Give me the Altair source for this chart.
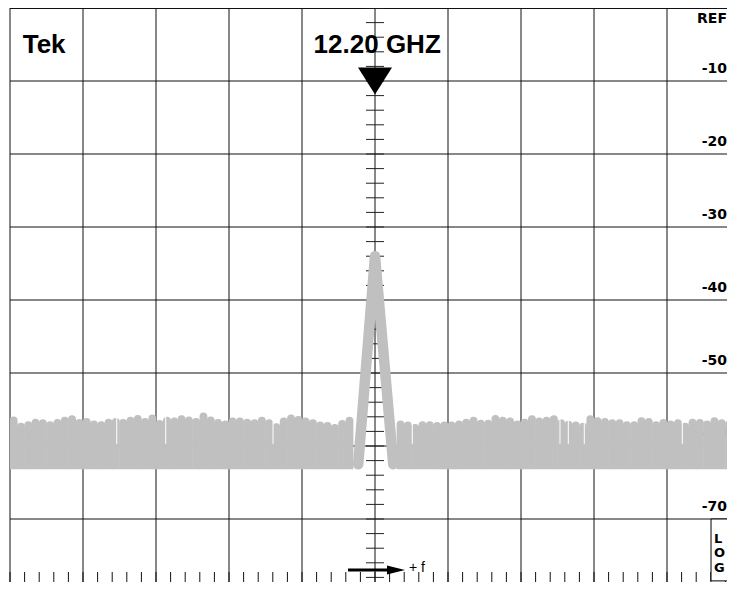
import altair as alt
import pandas as pd

# ---------------- data ----------------
# graticule (divisions on x, dB on y)
div_lines = [-5, -4, -3, -2, -1, 0, 1, 2, 3, 4]
db_lines = [-10, -20, -30, -40, -50, -60, -70, -80]
top_line_db = [0]
center_minor_db = list(range(0, -81, -2))
bottom_minor_div = [round(-5 + 0.2 * k, 1) for k in range(50)]

# right-hand level labels
level_labels = ["-10", "-20", "-30", "-40", "-50", "-60", "-70"]
level_db = [-10, -20, -30, -40, -50, -60, -70]
ref_label = "REF"
ref_db = -2.05

# noise floor tops (dB), bins of 0.1 division
noise_left_db = [-55.95, -56.8, -56.6, -56.25, -56.35, -56.6, -56.3, -56.0, -55.8, -56.3,
                 -56.15, -56.5, -56.6, -56.25, -56.15, -56.3, -56.0, -55.75, -56.15, -55.7,
                 -56.45, -56.0, -56.1, -55.8, -55.95, -56.15, -55.4, -55.95, -56.3, -56.5,
                 -56.1, -56.1, -56.25, -56.35, -56.0, -56.35, -56.9, -56.1, -55.7, -55.9,
                 -56.1, -56.35, -56.65, -56.7, -57.0, -56.45, -56.0]
noise_right_db = [-56.5, -56.65, -57.0, -56.6, -56.6, -56.7, -56.65, -56.65, -56.5, -56.25,
                  -56.0, -56.4, -56.4, -55.75, -56.0, -56.1, -56.5, -56.25, -55.8, -56.1,
                  -56.0, -55.8, -56.35, -56.55, -56.65, -56.8, -55.8, -56.05, -56.15, -56.35,
                  -56.35, -56.6, -56.6, -56.05, -56.15, -56.6, -56.3, -56.5, -56.35, -56.8,
                  -56.25, -56.3, -56.5, -56.05, -56.35, -56.5, -56.35]
noise_left_start = -4.95
noise_right_start = 0.35
noise_bin = 0.1
noise_floor_db = -63.2
noise_gap_div = [-3.538, -2.867, -1.397, 0.511, 2.534, 2.648, 2.867, 4.21]

# carrier peak
peak_div = [-0.23, 0.0, 0.25]
peak_db = [-62.5, -34.0, -62.5]

title_text = "Tek"
center_freq_text = "12.20 GHZ"
freq_dir_text = "+ f"
log_text = "L\nO\nG"

# ---------------- scales ----------------
PX_PER_DIV = 73.0
PLOT_W, PLOT_H = 717, 574
X_MIN = -5.0
X_MAX = X_MIN + PLOT_W / PX_PER_DIV
Y_MAX = 0.0
Y_MIN = -PLOT_H / (PX_PER_DIV / 10.0)
xs = alt.Scale(domain=[X_MIN, X_MAX], nice=False, zero=False)
ys = alt.Scale(domain=[Y_MIN, Y_MAX], nice=False, zero=False)
FONT = "Liberation Sans"
LFONT = "DejaVu Sans"
TRACE = "#c0c0c0"


def X(field=None, **kw):
    if field is None:
        return alt.X(scale=xs, axis=None, **kw)
    return alt.X(field, scale=xs, axis=None, **kw)


def Y(field=None, **kw):
    if field is None:
        return alt.Y(scale=ys, axis=None, **kw)
    return alt.Y(field, scale=ys, axis=None, **kw)


# tables
vgrid_df = pd.DataFrame({"d": div_lines})
hgrid_df = pd.DataFrame({"v": db_lines})
top_df = pd.DataFrame({"v": top_line_db})
cminor_df = pd.DataFrame({"v": center_minor_db, "c": [0] * len(center_minor_db)})
bminor_df = pd.DataFrame({"d": bottom_minor_div})
lvl_df = pd.DataFrame({"t": level_labels, "v": level_db})
ref_df = pd.DataFrame({"t": [ref_label], "v": [ref_db]})

centers = [noise_left_start + noise_bin * i for i in range(len(noise_left_db))] + \
          [noise_right_start + noise_bin * i for i in range(len(noise_right_db))]
tops = noise_left_db + noise_right_db
noise_df = pd.DataFrame({
    "lo": [c - noise_bin / 2 - 0.004 for c in centers],
    "hi": [c + noise_bin / 2 + 0.004 for c in centers],
    "top": tops,
    "floor": [noise_floor_db] * len(tops),
})
gap_df = pd.DataFrame({"d": noise_gap_div})
peak_df = pd.DataFrame({"f": peak_div, "db": peak_db, "o": list(range(len(peak_div)))})

one = pd.DataFrame({"k": [0]})

# ---------------- layers ----------------
vgrid = alt.Chart(vgrid_df).mark_rule(color="#111", strokeWidth=1).encode(x=X("d:Q"))
hgrid = alt.Chart(hgrid_df).mark_rule(color="#111", strokeWidth=1).encode(y=Y("v:Q"))
topline = alt.Chart(top_df).mark_rule(color="#111", strokeWidth=2).encode(y=Y("v:Q"))
cminor = alt.Chart(cminor_df).mark_tick(orient="horizontal", size=18, thickness=1, color="#222",
                                        opacity=1).encode(x=X("c:Q"), y=Y("v:Q"))
bminor = alt.Chart(bminor_df).mark_tick(orient="vertical", size=20, thickness=1, color="#111",
                                        opacity=1).encode(x=X("d:Q"), y=Y(datum=Y_MIN))
lvl = alt.Chart(lvl_df).mark_text(align="right", baseline="alphabetic", dy=-8, font=LFONT,
                                  fontSize=14, fontWeight="bold", color="black").encode(
    x=X(datum=X_MAX), y=Y("v:Q"), text="t:N")
ref = alt.Chart(ref_df).mark_text(align="right", baseline="alphabetic", font=LFONT,
                                  fontSize=14, fontWeight="bold", color="black").encode(
    x=X(datum=X_MAX), y=Y("v:Q"), text="t:N")

noise = alt.Chart(noise_df).mark_rect(color=TRACE, cornerRadiusTopLeft=3.6,
                                      cornerRadiusTopRight=3.6, clip=True).encode(
    x=X("lo:Q"), x2="hi:Q", y=Y("top:Q"), y2="floor:Q")
gaps = alt.Chart(gap_df).mark_rule(color="white", strokeWidth=1).encode(
    x=X("d:Q"), y=Y(datum=-55.0), y2=alt.Y2(datum=-59.7))
peak = alt.Chart(peak_df).mark_line(color=TRACE, strokeWidth=10.5, strokeCap="round",
                                    strokeJoin="round").encode(
    x=X("f:Q"), y=Y("db:Q"), order="o:Q")

marker = alt.Chart(one).mark_point(shape="M-1,-0.8L1,-0.8L0,0.8Z", size=1156, filled=True,
                                   color="black", opacity=1, strokeWidth=0).encode(
    x=X(datum=0.0), y=Y(datum=-10.0))

tek = alt.Chart(one).mark_text(text=title_text, align="left", baseline="alphabetic", font=FONT,
                               fontSize=26, fontWeight="bold", color="black").encode(
    x=X(datum=-4.826), y=Y(datum=-6.16))
cfreq = alt.Chart(one).mark_text(text=center_freq_text, align="center", baseline="alphabetic",
                                 font=FONT, fontSize=26, fontWeight="bold", color="black").encode(
    x=X(datum=0.03), y=Y(datum=-6.16))

ARROW_DB = -77.0
arrow_shaft = alt.Chart(one).mark_rule(color="black", strokeWidth=3).encode(
    x=X(datum=-0.37), x2=alt.X2(datum=0.27), y=Y(datum=ARROW_DB))
arrow_head = alt.Chart(one).mark_point(shape="M-1,-0.5L1,0L-1,0.5Z", size=324, filled=True,
                                       color="black", opacity=1, strokeWidth=0).encode(
    x=X(datum=0.288), y=Y(datum=ARROW_DB))
fdir = alt.Chart(one).mark_text(text=freq_dir_text, align="left", baseline="alphabetic",
                                font=FONT, fontSize=14, color="black").encode(
    x=X(datum=0.466), y=Y(datum=-77.25))

BOX_LEFT = 4.603
log_box = alt.Chart(one).mark_rect(fill="white", stroke="black", strokeWidth=1, clip=True).encode(
    x=X(datum=BOX_LEFT), x2=alt.X2(datum=X_MAX + 0.3), y=Y(datum=-70.0),
    y2=alt.Y2(datum=Y_MIN + 0.15))
log_lbl = alt.Chart(one).mark_text(text=log_text, lineBreak="\n", lineHeight=14.5, align="left",
                                   baseline="alphabetic", dy=23.7, dx=3, font=LFONT, fontSize=13,
                                   fontWeight="bold", color="black").encode(
    x=X(datum=BOX_LEFT), y=Y(datum=-70.0))

chart = alt.layer(
    vgrid, hgrid, topline, cminor, bminor, lvl, ref,
    noise, gaps, peak,
    marker, tek, cfreq,
    arrow_shaft, arrow_head, fdir,
    log_box, log_lbl,
).properties(
    width=PLOT_W, height=PLOT_H,
    padding={"left": 2, "top": 0, "right": 0, "bottom": 0},
    autosize="none",
    background="white",
).configure_view(stroke=None)

chart.save("out.html", embed_options={"renderer": "svg", "actions": False})
